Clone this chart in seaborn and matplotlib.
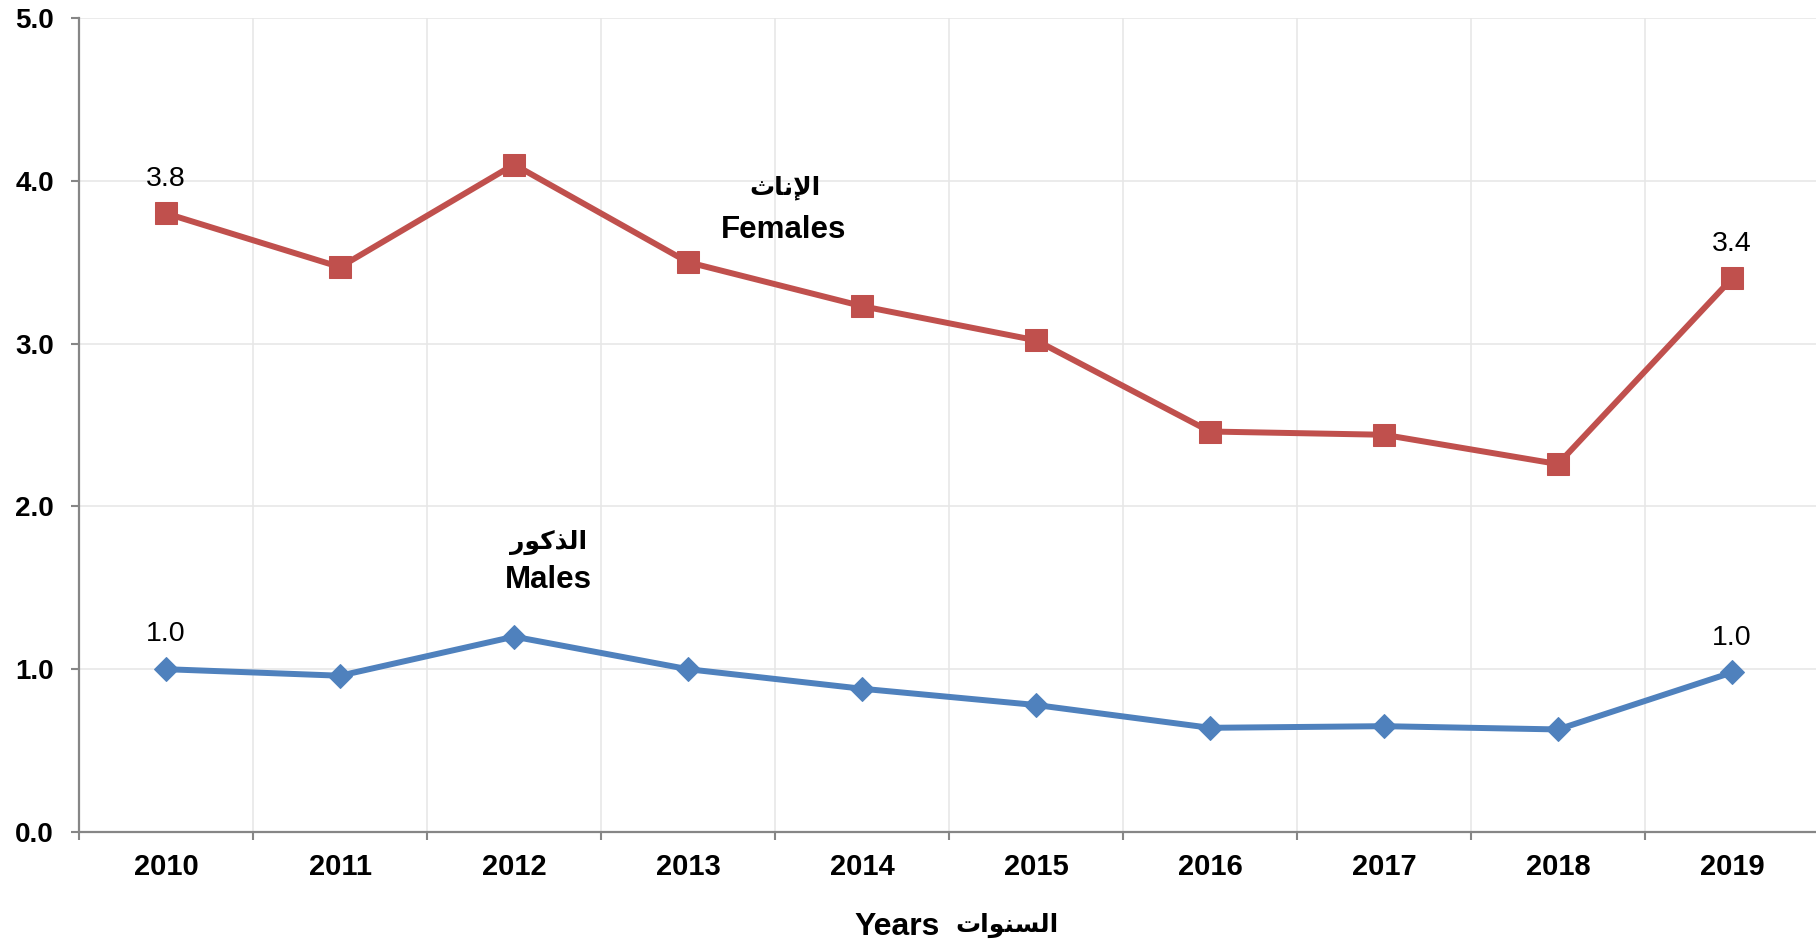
import numpy as np
import pandas as pd
import matplotlib
matplotlib.use("Agg")
import matplotlib.pyplot as plt
import seaborn as sns

years = ["2010", "2011", "2012", "2013", "2014", "2015", "2016", "2017", "2018", "2019"]
females = [3.8, 3.47, 4.1, 3.5, 3.23, 3.02, 2.46, 2.44, 2.26, 3.4]
males = [1.0, 0.96, 1.2, 1.0, 0.88, 0.78, 0.64, 0.65, 0.63, 0.98]
y_ticks = [0.0, 1.0, 2.0, 3.0, 4.0, 5.0]

# arabic text pre-shaped (presentation forms, visual order) since matplotlib has no shaping
ar_females = "\uFE99\uFE8E\uFEE7\uFEF9\uFE8D"
ar_males = "\uFEAD\uFEEE\uFEDB\uFEAC\uFEDF\uFE8D"
ar_years = "\uFE95\uFE8D\uFEEE\uFEE8\uFEB4\uFEDF\uFE8D"

sns.set_style("white")
plt.rcParams['font.family'] = ['Liberation Sans', 'DejaVu Sans']
plt.rcParams['text.color'] = 'black'
plt.rcParams['xtick.color'] = '#868686'
plt.rcParams['ytick.color'] = '#868686'
plt.rcParams['xtick.labelcolor'] = 'black'
plt.rcParams['ytick.labelcolor'] = 'black'

df = pd.DataFrame({
    "x": list(range(len(years))) * 2,
    "value": females + males,
    "series": ["Females"] * len(years) + ["Males"] * len(years),
})

red = "#C0504D"
blue = "#4F81BD"

fig = plt.figure(figsize=(18.16, 9.46), dpi=100)
ax = fig.add_axes([79 / 1816, 1 - 832 / 946, 1740 / 1816, (832 - 18) / 946])

sns.lineplot(data=df[df.series == "Females"], x="x", y="value", color=red,
             marker="s", markersize=15.5, markeredgecolor=red, linewidth=4.3, ax=ax)
sns.lineplot(data=df[df.series == "Males"], x="x", y="value", color=blue,
             marker="D", markersize=12, markeredgecolor=blue, linewidth=4.3, ax=ax)

ax.set_xlim(-0.5, len(years) - 0.5)
ax.set_ylim(0, 5)
ax.set_yticks(y_ticks)
ax.set_yticklabels([f"{v:.1f}" for v in y_ticks], fontsize=20, fontweight="bold")
ax.set_xticks(range(len(years)))
ax.set_xticklabels(years, fontsize=21, fontweight="bold")
ax.set_xticks(np.arange(-0.5, len(years)), minor=True)
ax.tick_params(axis="x", which="major", bottom=True, length=0, pad=15)
ax.tick_params(axis="x", which="minor", bottom=True, length=6, width=1.5)
ax.tick_params(axis="y", which="major", left=True, length=6, width=1.5, pad=12)
ax.set_xlabel("")
ax.set_ylabel("")

ax.grid(False)
ax.yaxis.grid(True, color="#e6e6e6", linewidth=1.1)
ax.xaxis.grid(True, which="minor", color="#e6e6e6", linewidth=1.1)
ax.set_axisbelow(True)
for s in ["top", "right"]:
    ax.spines[s].set_visible(False)
for s in ["left", "bottom"]:
    ax.spines[s].set_color("#868686")
    ax.spines[s].set_linewidth(1.6)

# data labels at the ends
for i in [0, len(years) - 1]:
    ax.annotate(f"{females[i]:.1f}", (i, females[i]), xytext=(0, 25),
                textcoords="offset points", ha="center", va="center", fontsize=20.5)
    ax.annotate(f"{males[i]:.1f}", (i, males[i]), xytext=(0, 25),
                textcoords="offset points", ha="center", va="center", fontsize=20.5)

ax.text(3.55, 3.70, "Females", ha="center", va="center", fontsize=22.5, fontweight="bold")
ax.text(3.56, 3.96, ar_females, ha="center", va="center", fontsize=18, fontweight="bold")
ax.text(2.2, 1.55, "Males", ha="center", va="center", fontsize=22.5, fontweight="bold")
ax.text(2.2, 1.78, ar_males, ha="center", va="center", fontsize=18, fontweight="bold")

fig.text(940 / 1816, 1 - 927 / 946, "Years", ha="right", va="center",
         fontsize=23, fontweight="bold")
fig.text(955 / 1816, 1 - 925 / 946, ar_years, ha="left", va="center",
         fontsize=18, fontweight="bold")

fig.savefig("out.png", dpi=100)
